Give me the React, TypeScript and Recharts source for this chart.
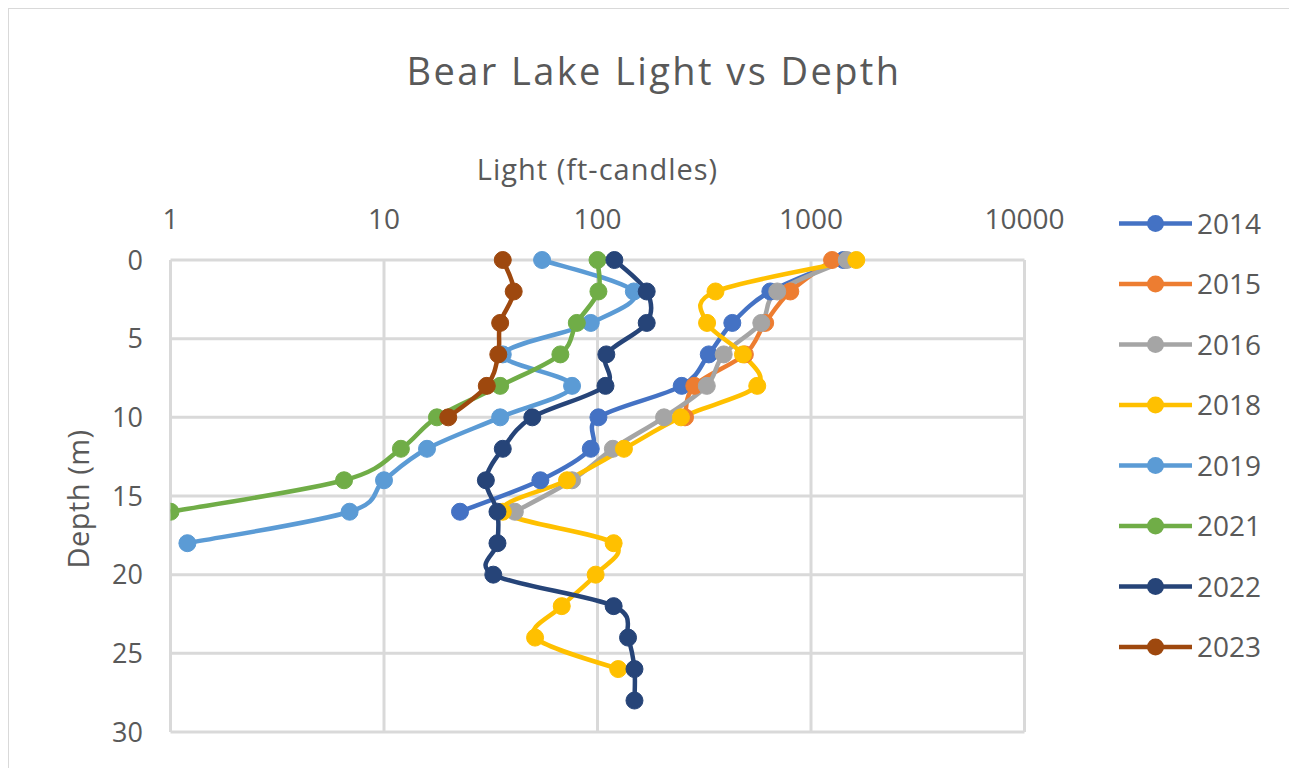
import { LineChart, Line, XAxis, YAxis, CartesianGrid } from "recharts";

// depth (m) of each reading, one every 2 m
const DEPTHS = [0, 2, 4, 6, 8, 10, 12, 14, 16, 18, 20, 22, 24, 26, 28];

// light (ft-candles) per year, in order of depth
const light2014 = [1420, 645, 428, 332, 248, 101, 93, 54, 22.7];
const light2015 = [1255, 800, 610, 490, 284, 257];
const light2016 = [1470, 695, 585, 390, 325, 205, 118, 76, 41];
const light2018 = [1630, 357, 326, 480, 560, 246, 133, 72, 36, 119, 98, 68, 51, 125];
const light2019 = [55, 148, 93, 36, 76, 35, 15.9, 10, 6.9, 1.2];
const light2021 = [100, 101, 80, 67, 35, 17.7, 12, 6.5, 1];
const light2022 = [120, 170, 170, 110, 109, 49.5, 36, 30, 34, 34, 32.5, 119, 139, 149, 149];
const light2023 = [36, 40.5, 35, 34.3, 30.3, 20];

const X_TICKS = [1, 10, 100, 1000, 10000];
const Y_TICKS = [0, 5, 10, 15, 20, 25, 30];

const SERIES = [
    { name: "2014", color: "#4472C4", values: light2014 },
    { name: "2015", color: "#ED7D31", values: light2015 },
    { name: "2016", color: "#A5A5A5", values: light2016 },
    { name: "2018", color: "#FFC000", values: light2018 },
    { name: "2019", color: "#5B9BD5", values: light2019 },
    { name: "2021", color: "#70AD47", values: light2021 },
    { name: "2022", color: "#264478", values: light2022 },
    { name: "2023", color: "#9E480E", values: light2023 },
];

const TEXT = "#595959";

// Excel-like smoothed line (catmull-rom style bezier through every point)
const excelSmooth = (context: any) => {
    let pts: number[][] = [];
    return {
        areaStart() {},
        areaEnd() {},
        lineStart() {
            pts = [];
        },
        point(x: number, y: number) {
            pts.push([+x, +y]);
        },
        lineEnd() {
            if (!pts.length) return;
            context.moveTo(pts[0][0], pts[0][1]);
            for (let i = 0; i < pts.length - 1; i++) {
                const p0 = pts[Math.max(i - 1, 0)];
                const p1 = pts[i];
                const p2 = pts[i + 1];
                const p3 = pts[Math.min(i + 2, pts.length - 1)];
                context.bezierCurveTo(
                    p1[0] + (p2[0] - p0[0]) / 6,
                    p1[1] + (p2[1] - p0[1]) / 6,
                    p2[0] - (p3[0] - p1[0]) / 6,
                    p2[1] - (p3[1] - p1[1]) / 6,
                    p2[0],
                    p2[1]
                );
            }
        },
    };
};

export default function App() {
    const seriesData = SERIES.map((s) => ({
        ...s,
        data: s.values.map((v, i) => ({ depth: DEPTHS[i], light: v })),
    }));

    return (
        <div
            style={{
                position: "relative",
                width: 1281,
                height: 759,
                border: "1px solid #d9d9d9",
                fontFamily: "'Open Sans', sans-serif",
                background: "#fff",
            }}
        >
            <LineChart
                width={1281}
                height={759}
                layout="vertical"
                margin={{ top: 201, right: 265.5, bottom: 36, left: 0 }}
            >
                <CartesianGrid stroke="#d9d9d9" strokeWidth={3} />
                <XAxis
                    type="number"
                    dataKey="light"
                    scale="log"
                    domain={[1, 10000]}
                    ticks={X_TICKS}
                    allowDataOverflow
                    orientation="top"
                    height={50}
                    axisLine={false}
                    tickLine={false}
                    tickSize={0}
                    tickMargin={31.5}
                    tick={{ fill: TEXT, fontSize: 28 }}
                    label={{
                        value: "Light (ft-candles)",
                        position: "top",
                        offset: 30,
                        fill: TEXT,
                        fontSize: 29,
                        letterSpacing: 1,
                    }}
                />
                <YAxis
                    type="number"
                    dataKey="depth"
                    domain={[0, 30]}
                    ticks={Y_TICKS}
                    width={161.5}
                    axisLine={false}
                    tickLine={false}
                    tickSize={0}
                    tickMargin={27.5}
                    tick={{ fill: TEXT, fontSize: 27 }}
                    label={{
                        value: "Depth (m)",
                        angle: -90,
                        position: "center",
                        dx: -11,
                        dy: 3,
                        fill: TEXT,
                        fontSize: 29,
                        letterSpacing: 0.5,
                    }}
                />
                {seriesData.map((s) => (
                    <Line
                        key={s.name}
                        data={s.data}
                        dataKey="light"
                        name={s.name}
                        type={excelSmooth as any}
                        stroke={s.color}
                        strokeWidth={4.5}
                        dot={{ r: 8.5, fill: s.color, stroke: s.color, strokeWidth: 1 }}
                        activeDot={false}
                        isAnimationActive={false}
                    />
                ))}
            </LineChart>

            <div
                style={{
                    position: "absolute",
                    left: 0,
                    top: 42,
                    width: 1290,
                    textAlign: "center",
                    fontSize: 38,
                    lineHeight: "38px",
                    letterSpacing: 2.4,
                    color: TEXT,
                }}
            >
                Bear Lake Light vs Depth
            </div>

            <svg style={{ position: "absolute", left: 1091, top: 0 }} width={190} height={759}>
                {SERIES.map((s, i) => {
                    const cy = 214.5 + i * 60.5;
                    return (
                        <g key={s.name}>
                            <line x1={19} x2={92} y1={cy} y2={cy} stroke={s.color} strokeWidth={4.5} />
                            <circle cx={55.5} cy={cy} r={8.5} fill={s.color} />
                            <text x={97} y={cy + 10} fill={TEXT} fontSize={28}>
                                {s.name}
                            </text>
                        </g>
                    );
                })}
            </svg>
        </div>
    );
}
